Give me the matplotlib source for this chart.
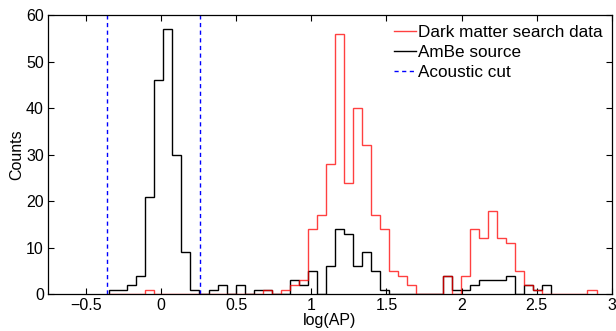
import numpy as np
import matplotlib
matplotlib.use("Agg")
import matplotlib.pyplot as plt

plt.rcParams['font.family'] = ['Liberation Sans', 'DejaVu Sans']
plt.rcParams['font.size'] = 11

# histogram bins (log(AP)), common grid
BIN_START = -0.343
BIN_WIDTH = 0.06

# AmBe source counts, one value per bin from BIN_START
ambe_counts = [1, 1, 2, 4, 21, 46, 57, 30, 9, 1,
               0, 1, 2, 0, 2, 0, 1, 1, 0, 0,
               3, 2, 5, 0, 6, 14, 13, 6, 9, 5,
               1, 0, 0, 0, 0, 0, 0, 4, 1, 1,
               2, 3, 3, 3, 4, 0, 2, 1, 2]

# Dark matter search data counts
dm_counts = [0, 0, 0, 0, 1, 0, 0, 0, 0, 0,
             0, 0, 0, 0, 0, 0, 0, 1, 0, 1,
             2, 3, 14, 17, 28, 56, 24, 40, 32, 17,
             14, 5, 4, 2, 0, 0, 0, 4, 0, 4,
             14, 12, 18, 12, 11, 5, 2, 1, 0, 0,
             0, 0, 0, 1]

# acoustic cut positions
cut_lo = -0.36
cut_hi = 0.26

ambe_edges = BIN_START + BIN_WIDTH * np.arange(len(ambe_counts) + 1)
dm_edges = BIN_START + BIN_WIDTH * np.arange(len(dm_counts) + 1)

fig = plt.figure(figsize=(6.16, 3.31), dpi=100)
ax = fig.add_axes([0.078, 0.111, 0.9155, 0.843])

ax.stairs(ambe_counts, ambe_edges, color='black', lw=1.0, label='AmBe source', zorder=2)
ax.stairs(dm_counts, dm_edges, color='red', lw=1.0, alpha=0.75, label='Dark matter search data', zorder=3)
ax.axvline(cut_lo, color='blue', ls=(0, (3, 2.5)), lw=1.0, label='Acoustic cut')
ax.axvline(cut_hi, color='blue', ls=(0, (3, 2.5)), lw=1.0)

ax.set_xlim(-0.75, 3)
ax.set_ylim(0, 60)
ax.set_xticks([-0.5, 0, 0.5, 1, 1.5, 2, 2.5, 3])
ax.set_xticklabels(['\u22120.5', '0', '0.5', '1', '1.5', '2', '2.5', '3'])
ax.set_yticks(range(0, 61, 10))
ax.tick_params(direction='in', top=True, right=True, length=4, width=0.8, labelsize=11.5, pad=3)
for s in ax.spines.values():
    s.set_linewidth(0.9)

ax.set_xlabel('log(AP)', fontsize=11.5, labelpad=0)
ax.set_ylabel('Counts', fontsize=11.5, labelpad=1)

h, l = ax.get_legend_handles_labels()
order = [1, 0, 2]
leg = ax.legend([h[i] for i in order], [l[i] for i in order], loc='upper right',
                frameon=False, fontsize=12.3, handlelength=1.3, handletextpad=0.1,
                labelspacing=0.3, borderaxespad=0.15, bbox_to_anchor=(1.0, 1.0))

fig.savefig('out.png', dpi=100)
